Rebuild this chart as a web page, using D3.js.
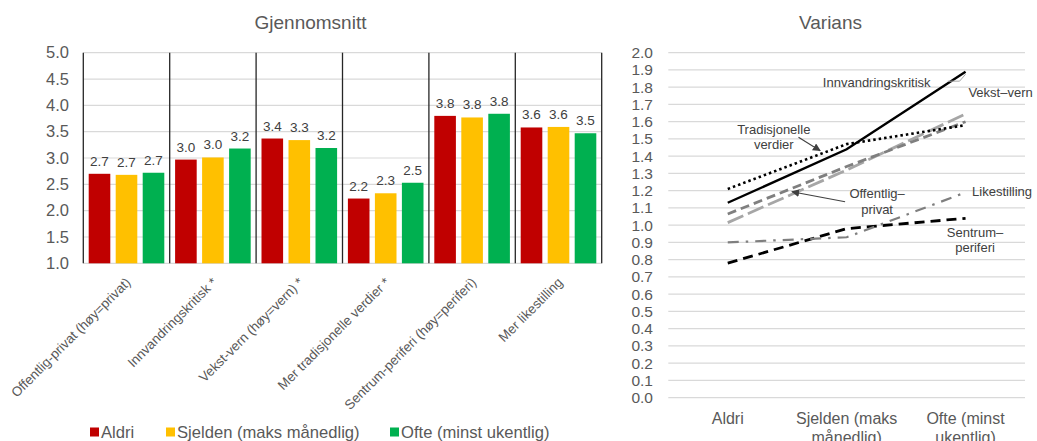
<!DOCTYPE html>
<html>
<head>
<meta charset="utf-8">
<script src="https://cdn.jsdelivr.net/npm/d3@7"></script>
<style>
  body { margin: 0; background: #fff; }
  svg { font-family: Arial, "Liberation Sans", sans-serif; }
</style>
</head>
<body>
<svg id="chart" width="1037" height="441"></svg>
<script>
// --- data: left panel (means) ---
const dimensions = ['Offentlig-privat (høy=privat)', 'Innvandringskritisk *', 'Vekst-vern (høy=vern) *',
  'Mer tradisjonelle verdier *', 'Sentrum-periferi (høy=periferi)', 'Mer likestilling'];
const groups = ['Aldri', 'Sjelden (maks månedlig)', 'Ofte (minst ukentlig)'];
const meanAldri   = [2.70, 2.97, 3.37, 2.23, 3.80, 3.58];
const meanSjelden = [2.68, 3.01, 3.34, 2.33, 3.77, 3.59];
const meanOfte    = [2.72, 3.18, 3.19, 2.53, 3.84, 3.47];
const meanTicks = [1.0, 1.5, 2.0, 2.5, 3.0, 3.5, 4.0, 4.5, 5.0];
const groupColors = ['#C00000', '#FFC000', '#00B050'];

// --- data: right panel (variance) ---
const varCategories = [['Aldri'], ['Sjelden (maks', 'månedlig)'], ['Ofte (minst', 'ukentlig)']];
const varInnvandring   = [1.13, 1.44, 1.89];
const varTradisjonelle = [1.21, 1.47, 1.58];
const varOffentlig     = [1.065, 1.34, 1.60];
const varVekst         = [1.015, 1.32, 1.645];
const varLikestilling  = [0.90, 0.93, 1.19];
const varSentrum       = [0.78, 0.98, 1.04];
const varTicks = d3.range(0, 21).map(i => i / 10);

const svg = d3.select('#chart');
const textCol = '#595959';

// ================= left: Gjennomsnitt =================
const left = {x0: 83.3, x1: 601.7, top: 52.7, bottom: 263.3};

const x0 = d3.scaleBand().domain(dimensions).range([left.x0, left.x1]);
const x1 = d3.scaleBand().domain(groups).range([0, x0.bandwidth()])
  .paddingInner(0.2).paddingOuter(0.2);
const yM = d3.scaleLinear().domain([1, 5]).range([left.bottom, left.top]);

const gL = svg.append('g');

gL.selectAll('line.grid').data(meanTicks).enter().append('line')
  .attr('x1', left.x0).attr('x2', left.x1)
  .attr('y1', d => yM(d)).attr('y2', d => yM(d))
  .attr('stroke', '#d9d9d9').attr('stroke-width', 1.2);

gL.selectAll('text.ytick').data(meanTicks).enter().append('text')
  .attr('x', 69).attr('y', d => yM(d)).attr('dy', '0.35em')
  .attr('text-anchor', 'end').attr('font-size', 16.5).attr('fill', textCol)
  .text(d => d.toFixed(1));

// group separators
const seps = dimensions.map(d => x0(d)).concat([left.x1]);
gL.selectAll('line.sep').data(seps).enter().append('line')
  .attr('x1', d => d).attr('x2', d => d)
  .attr('y1', left.top).attr('y2', left.bottom)
  .attr('stroke', '#262626').attr('stroke-width', 1.3);

const seriesMeans = [meanAldri, meanSjelden, meanOfte];
const barData = [];
dimensions.forEach((dim, i) => {
  groups.forEach((grp, j) => barData.push({dim, grp, j, v: seriesMeans[j][i]}));
});

gL.selectAll('rect.bar').data(barData).enter().append('rect')
  .attr('x', d => x0(d.dim) + x1(d.grp))
  .attr('width', x1.bandwidth())
  .attr('y', d => yM(d.v))
  .attr('height', d => yM(1) - yM(d.v))
  .attr('fill', d => groupColors[d.j]);

gL.selectAll('text.val').data(barData).enter().append('text')
  .attr('x', d => x0(d.dim) + x1(d.grp) + x1.bandwidth() / 2)
  .attr('y', d => yM(d.v) - 8)
  .attr('text-anchor', 'middle').attr('font-size', 13.5).attr('fill', '#404040')
  .text(d => d.v.toFixed(1));

gL.selectAll('text.xlab').data(dimensions).enter().append('text')
  .attr('transform', d => `translate(${x0(d) + x0.bandwidth() / 2 + 5},${left.bottom + 20}) rotate(-45)`)
  .attr('text-anchor', 'end').attr('font-size', 13.4).attr('fill', textCol)
  .text(d => d);

svg.append('text').attr('x', 310.5).attr('y', 28.5).attr('text-anchor', 'middle')
  .attr('font-size', 19).attr('fill', textCol).text('Gjennomsnitt');

// legend
const legendX = [90, 166, 390];
const leg = svg.append('g').selectAll('g').data(groups).enter().append('g')
  .attr('transform', (d, i) => `translate(${legendX[i]},432)`);
leg.append('rect').attr('x', 0).attr('y', -4.5).attr('width', 9).attr('height', 9)
  .attr('fill', (d, i) => groupColors[i]);
leg.append('text').attr('x', 11).attr('y', 0).attr('dy', '0.36em')
  .attr('font-size', 16.6).attr('fill', textCol).text(d => d);

// ================= right: Varians =================
const right = {x0: 668.3, x1: 1025, top: 52.7, bottom: 397.7};
const xV = d3.scalePoint().domain(d3.range(varCategories.length))
  .range([right.x0, right.x1]).padding(0.5);
const yV = d3.scaleLinear().domain([0, 2]).range([right.bottom, right.top]);
const stepV = xV.step();
const at = t => xV(0) + t * stepV;

const gR = svg.append('g');

gR.selectAll('line.grid').data(varTicks).enter().append('line')
  .attr('x1', right.x0).attr('x2', right.x1)
  .attr('y1', d => yV(d)).attr('y2', d => yV(d))
  .attr('stroke', '#d9d9d9').attr('stroke-width', 1.2);

gR.selectAll('text.ytick').data(varTicks).enter().append('text')
  .attr('x', 653).attr('y', d => yV(d)).attr('dy', '0.35em')
  .attr('text-anchor', 'end').attr('font-size', 15.5).attr('fill', textCol)
  .text(d => d.toFixed(1));

const xl = gR.selectAll('text.xlab').data(varCategories).enter().append('text')
  .attr('x', (d, i) => xV(i)).attr('y', 424)
  .attr('text-anchor', 'middle').attr('font-size', 16).attr('fill', textCol);
xl.selectAll('tspan').data(d => d).enter().append('tspan')
  .attr('x', function() { return this.parentNode.getAttribute('x'); })
  .attr('dy', (d, i) => i === 0 ? 0 : 18.5)
  .text(d => d);

const lines = [
  {v: varSentrum, color: '#000000', w: 2.8, dash: '10 6'},
  {v: varLikestilling, color: '#7f7f7f', w: 2.2, dash: '11 7 2.5 7'},
  {v: varVekst, color: '#a6a6a6', w: 2.8, dash: '17 5'},
  {v: varOffentlig, color: '#7f7f7f', w: 2.8, dash: '9 5'},
  {v: varTradisjonelle, color: '#000000', w: 2.6, dash: '2.5 3'},
  {v: varInnvandring, color: '#000000', w: 2.4, dash: null}
];
const lineGen = d3.line().x((d, i) => xV(i)).y(d => yV(d));
gR.selectAll('path.series').data(lines).enter().append('path')
  .attr('d', d => lineGen(d.v))
  .attr('fill', 'none')
  .attr('stroke', d => d.color)
  .attr('stroke-width', d => d.w)
  .attr('stroke-dasharray', d => d.dash);

// annotations (t = category position, v = value)
const notes = [
  {t: 0.80, v: 1.80, anchor: 'start', lines: ['Innvandringskritisk']},
  {t: 2.024, v: 1.743, anchor: 'start', lines: ['Vekst–vern']},
  {t: 0.387, v: 1.529, anchor: 'middle', lines: ['Tradisjonelle', 'verdier']},
  {t: 1.256, v: 1.155, anchor: 'middle', lines: ['Offentlig–', 'privat']},
  {t: 2.055, v: 1.172, anchor: 'start', lines: ['Likestilling']},
  {t: 2.08, v: 0.932, anchor: 'middle', lines: ['Sentrum–', 'periferi']}
];
const nt = gR.selectAll('text.note').data(notes).enter().append('text')
  .attr('x', d => at(d.t)).attr('y', d => yV(d.v))
  .attr('text-anchor', d => d.anchor).attr('font-size', 13).attr('fill', '#404040');
nt.selectAll('tspan').data(d => d.lines.map(s => ({s, x: at(d.t)}))).enter().append('tspan')
  .attr('x', d => d.x).attr('dy', (d, i) => i === 0 ? 0 : 15.5)
  .text(d => d.s);

svg.append('defs').append('marker')
  .attr('id', 'arrow').attr('viewBox', '0 0 10 10').attr('refX', 9).attr('refY', 5)
  .attr('markerWidth', 8).attr('markerHeight', 8).attr('orient', 'auto-start-reverse')
  .attr('markerUnits', 'userSpaceOnUse')
  .append('path').attr('d', 'M0,0 L10,5 L0,10 z').attr('fill', '#404040');

const arrows = [
  {t0: 0.595, v0: 1.51, t1: 0.777, v1: 1.432},
  {t0: 0.987, v0: 1.136, t1: 0.54, v1: 1.194}
];
gR.selectAll('line.arrow').data(arrows).enter().append('line')
  .attr('x1', d => at(d.t0)).attr('y1', d => yV(d.v0))
  .attr('x2', d => at(d.t1)).attr('y2', d => yV(d.v1))
  .attr('stroke', '#404040').attr('stroke-width', 1.1)
  .attr('marker-end', 'url(#arrow)');

// small leader at the end of Innvandringskritisk
gR.append('path')
  .attr('d', `M${at(1.85)},${yV(1.835)} L${at(1.95)},${yV(1.835)} L${at(2.0)},${yV(1.875)}`)
  .attr('fill', 'none').attr('stroke', '#a6a6a6').attr('stroke-width', 1);

svg.append('text').attr('x', 830.5).attr('y', 28.5).attr('text-anchor', 'middle')
  .attr('font-size', 19).attr('fill', textCol).text('Varians');
</script>
</body>
</html>
